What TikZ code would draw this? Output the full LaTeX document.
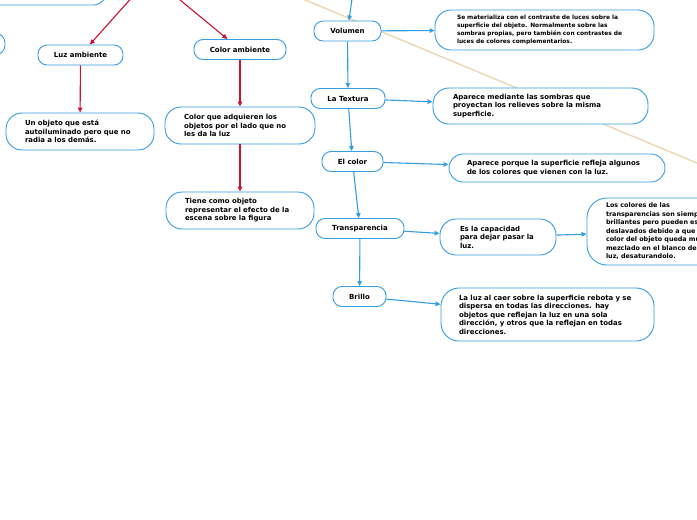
\documentclass[tikz,border=0pt]{standalone}
\usepackage{fontspec}
\setmainfont{DejaVu Sans}
\usetikzlibrary{arrows.meta}
\definecolor{azulmapa}{RGB}{52,158,226}
\definecolor{rojomapa}{RGB}{204,18,52}
\definecolor{beigemapa}{RGB}{234,214,174}

\tikzset{
  tema/.style={draw=azulmapa,line width=0.9pt,fill=white,rounded corners=9pt,
    font=\fontsize{7}{8.5}\selectfont\bfseries,inner sep=0pt,minimum height=20pt},
  nota/.style={draw=azulmapa,line width=0.9pt,fill=white,rounded corners=16pt,
    font=\fontsize{6.95}{8.5}\selectfont\bfseries,align=left,inner xsep=18pt,inner ysep=0pt},
  flechaA/.style={draw=azulmapa,line width=1.1pt,-{Triangle[length=5pt,width=4.5pt]}},
  flechaR/.style={draw=rojomapa,line width=1.1pt,-{Triangle[length=5pt,width=4.5pt]}},
}

\begin{document}
\begin{tikzpicture}[x=1pt,y=-1pt]
  \useasboundingbox (0,0) rectangle (697,520);
  \fill[white] (0,0) rectangle (697,520);
  \clip (0,0) rectangle (697,520);

  % linea de relacion al fondo
  \coordinate (lineaA) at (290,-6.3);
  \coordinate (lineaB) at (720,172.6);
  \draw[beigemapa,line width=1.3pt] (lineaA) -- (lineaB);

  % puntos de origen fuera del cuadro
  \coordinate (raiz) at (151,-24);
  \coordinate (arriba) at (356,-30);

  % nodos cortados en el borde
  \node[tema,rounded corners=14pt,minimum width=214pt,minimum height=40pt] (raizIzq) at (0,-15) {};
  \node[tema,rounded corners=10pt,minimum width=90pt,minimum height=22pt] (lado) at (-40,44) {};

  % rama izquierda
  \node[tema,minimum width=85pt] (luzAmb) at (80.5,55) {Luz ambiente};
  \node[tema,minimum width=92pt] (colAmb) at (240,49.5) {Color ambiente};
  \node[nota,inner xsep=19pt,text width=110pt,minimum height=37pt] (unObj) at (80,131.5)
    {Un objeto que está\\autoiluminado pero que no\\radia a los demás.};
  \node[nota,inner xsep=19pt,text width=112pt,minimum height=37pt] (colAdq) at (240,125.5)
    {Color que adquieren los\\objetos por el lado que no\\les da la luz};
  \node[nota,inner xsep=19pt,text width=110pt,minimum height=37pt] (tiene) at (240,210.5)
    {Tiene como objeto\\representar el efecto de la\\escena sobre la figura};

  \draw[flechaR] (raiz) -- (luzAmb);
  \draw[flechaR] (raiz) -- (colAmb);
  \draw[flechaR] (luzAmb) -- (unObj);
  \draw[flechaR] (colAmb) -- (colAdq);
  \draw[flechaR] (colAdq) -- (tiene);

  % columna central
  \node[tema,minimum width=67pt] (vol) at (347.5,31) {Volumen};
  \node[tema,minimum width=74pt] (tex) at (348,98.5) {La Textura};
  \node[tema,minimum width=61pt] (elCol) at (352.5,161.5) {El color};
  \node[tema,minimum width=88pt] (trans) at (360,228.5) {Transparencia};
  \node[tema,minimum width=53pt] (brillo) at (359.5,296.5) {Brillo};

  % descripciones
  \node[nota,font=\fontsize{5.9}{8}\selectfont\bfseries,inner xsep=22pt,text width=175pt,minimum height=40pt] (volDesc) at (544.5,30)
    {Se materializa con el contraste de luces sobre la\\superficie del objeto. Normalmente sobre las\\sombras propias, pero también con contrastes de\\luces de colores complementarios.};
  \node[nota,inner xsep=20pt,text width=175pt,minimum height=36pt] (texDesc) at (540.5,106)
    {Aparece mediante las sombras que\\proyectan los relieves sobre la misma\\superficie.};
  \node[nota,rounded corners=14pt,text width=180pt,minimum height=28pt] (colDesc) at (557,168)
    {Aparece porque la superficie refleja algunos\\de los colores que vienen con la luz.};
  \node[nota,inner xsep=20pt,text width=76pt,minimum height=36pt] (transDesc) at (498,237)
    {Es la capacidad\\para dejar pasar la\\luz.};
  \node[nota,font=\fontsize{6.4}{8.5}\selectfont\bfseries,rounded corners=20pt,inner xsep=19pt,text width=122pt,minimum height=67pt] (losCol) at (667,231.5)
    {Los colores de las\\transparencias son siempre\\brillantes pero pueden estar\\deslavados debido a que el\\color del objeto queda muy\\mezclado en el blanco de la\\luz, desaturandolo.};
  \node[nota,rounded corners=18pt,text width=177pt,minimum height=53pt] (luzDesc) at (547.5,314.5)
    {La luz al caer sobre la superficie rebota y se\\dispersa en todas las direcciones. hay\\objetos que reflejan la luz en una sola\\dirección, y otros que la reflejan en todas\\direcciones.};

  \draw[flechaA] (arriba) -- (vol);
  \draw[flechaA] (vol) -- (tex);
  \draw[flechaA] (tex) -- (elCol);
  \draw[flechaA] (elCol) -- (trans);
  \draw[flechaA] (trans) -- (brillo);
  \draw[flechaA] (vol) -- (volDesc);
  \draw[flechaA] (tex) -- (texDesc);
  \draw[flechaA] (elCol) -- (colDesc);
  \draw[flechaA] (trans) -- (transDesc);
  \draw[flechaA] (transDesc) -- (losCol);
  \draw[flechaA] (brillo) -- (luzDesc);
\end{tikzpicture}
\end{document}
